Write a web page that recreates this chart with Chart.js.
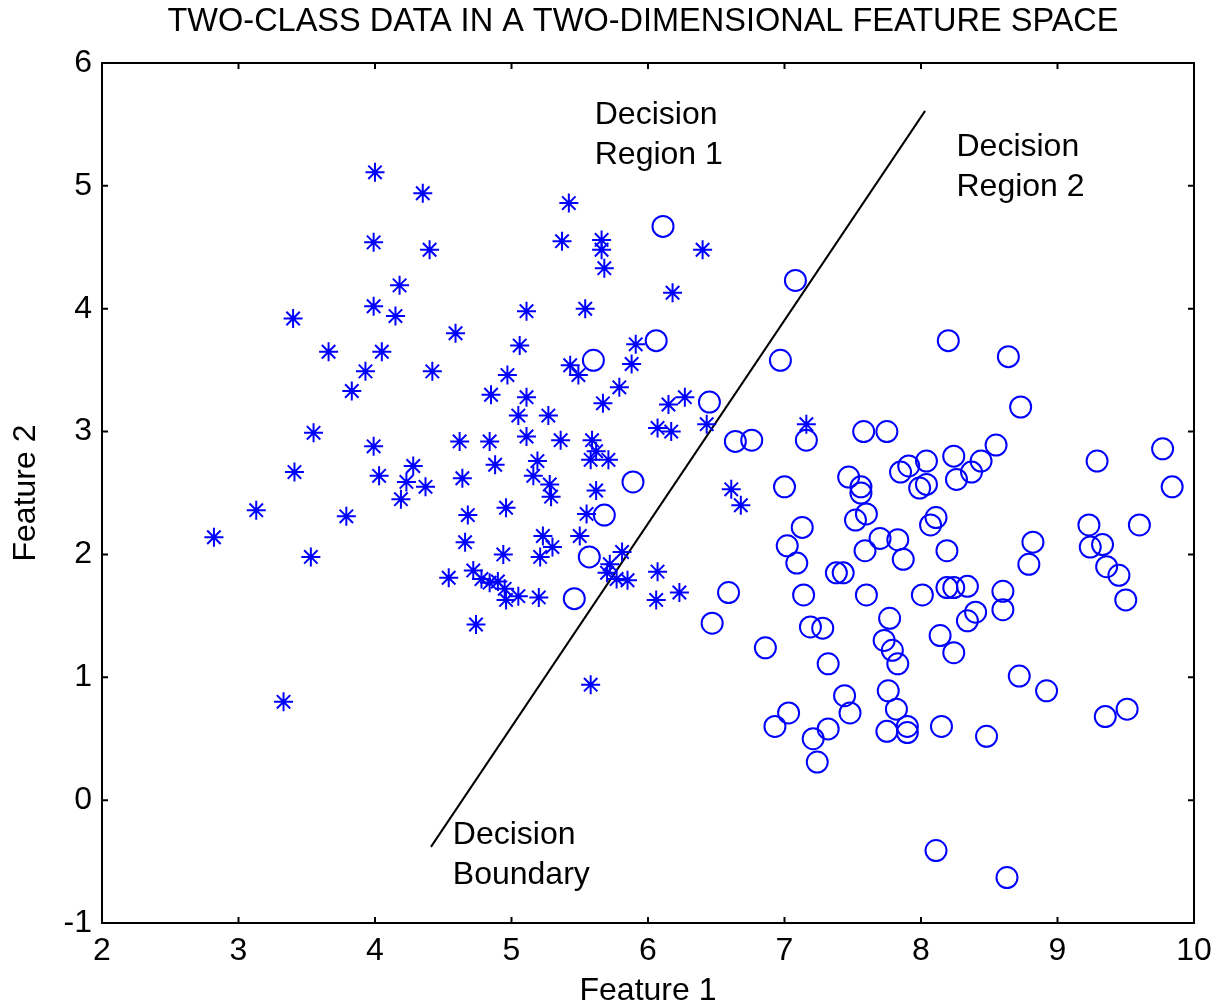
<!DOCTYPE html>
<html>
<head>
<meta charset="utf-8">
<script src="https://cdn.jsdelivr.net/npm/chart.js@4/dist/chart.umd.min.js"></script>
<style>
  html, body { margin: 0; padding: 0; background: #fff; }
  #wrap { width: 1211px; height: 1008px; }
</style>
</head>
<body>
<div id="wrap"><canvas id="chart" width="1211" height="1008"></canvas></div>
<script>
// class 1 (asterisks)
const class1X = [
  4.00, 4.35, 3.99, 4.40, 5.42, 5.37, 5.66, 5.66, 5.68, 6.40,
  6.18, 4.18, 3.99, 4.15, 3.40, 5.11, 5.54, 3.66, 4.05, 4.59,
  3.93, 3.83, 4.42, 5.06, 4.97, 5.91, 5.88, 5.43, 5.49, 5.79,
  4.85, 5.11, 5.67, 6.27, 6.15, 3.55, 5.05, 5.27, 5.11, 3.99,
  4.62, 4.84, 5.36, 5.59, 5.62, 5.58, 5.71, 6.07, 6.17, 6.43,
  7.16, 3.41, 4.28, 4.03, 4.23, 4.37, 4.64, 4.88, 5.19, 5.16,
  5.28, 5.29, 5.62, 4.19, 3.13, 3.79, 4.68, 4.96, 5.55, 6.61,
  6.68, 2.82, 4.66, 5.23, 5.30, 5.50, 3.53, 4.94, 5.21, 5.81,
  5.72, 6.07, 4.54, 4.72, 4.78, 4.84, 4.90, 4.95, 4.96, 5.05,
  5.20, 5.70, 5.77, 5.85, 6.06, 6.23, 4.74, 5.58, 3.33
];
const class1Y = [
  5.11, 4.94, 4.54, 4.48, 4.86, 4.55, 4.56, 4.48, 4.33, 4.48,
  4.13, 4.19, 4.02, 3.94, 3.92, 3.98, 4.00, 3.65, 3.65, 3.80,
  3.49, 3.33, 3.49, 3.70, 3.46, 3.71, 3.55, 3.54, 3.46, 3.36,
  3.30, 3.28, 3.23, 3.28, 3.22, 2.99, 3.13, 3.13, 2.96, 2.88,
  2.92, 2.92, 2.93, 2.93, 2.84, 2.77, 2.77, 3.03, 3.00, 3.06,
  3.06, 2.67, 2.72, 2.64, 2.59, 2.55, 2.62, 2.73, 2.76, 2.64,
  2.57, 2.47, 2.52, 2.45, 2.36, 2.31, 2.32, 2.38, 2.33, 2.53,
  2.40, 2.14, 2.10, 2.15, 2.06, 2.15, 1.98, 2.00, 1.98, 2.02,
  1.92, 1.86, 1.81, 1.87, 1.80, 1.77, 1.78, 1.72, 1.63, 1.66,
  1.65, 1.85, 1.80, 1.79, 1.63, 1.69, 1.43, 0.94, 0.80
];

// class 2 (circles)
const class2X = [
  6.11, 7.08, 6.06, 5.60, 6.97, 8.20, 8.64, 8.73, 6.45, 6.64,
  6.76, 7.16, 7.58, 7.75, 8.55, 9.77, 9.29, 9.84, 5.89, 7.00,
  7.47, 7.56, 7.56, 7.85, 7.91, 8.04, 7.99, 8.04, 8.24, 8.26,
  8.37, 8.44, 5.68, 7.13, 7.02, 7.09, 7.52, 7.60, 7.59, 7.70,
  7.83, 7.87, 8.11, 8.07, 8.19, 8.82, 8.79, 9.23, 9.60, 9.24,
  9.33, 9.36, 9.45, 9.50, 5.57, 7.38, 7.43, 6.59, 7.14, 7.60,
  8.01, 8.19, 8.24, 8.34, 8.60, 8.60, 8.40, 8.34, 5.46, 6.47,
  7.19, 7.28, 7.77, 7.73, 7.79, 7.83, 8.14, 8.24, 6.86, 7.32,
  8.72, 8.92, 7.76, 7.44, 7.82, 7.48, 7.03, 6.93, 7.32, 7.75,
  7.90, 7.90, 8.15, 7.21, 9.35, 9.51, 8.48, 7.24, 8.11, 8.63
];
const class2Y = [
  4.67, 4.23, 3.74, 3.58, 3.58, 3.74, 3.61, 3.20, 3.24, 2.92,
  2.93, 2.93, 3.00, 3.00, 2.89, 2.86, 2.76, 2.55, 2.59, 2.55,
  2.63, 2.55, 2.50, 2.67, 2.72, 2.76, 2.54, 2.57, 2.80, 2.61,
  2.67, 2.76, 2.32, 2.22, 2.07, 1.93, 2.28, 2.33, 2.03, 2.13,
  2.12, 1.96, 2.30, 2.24, 2.03, 2.10, 1.92, 2.24, 2.24, 2.06,
  2.08, 1.90, 1.83, 1.63, 1.98, 1.85, 1.85, 1.69, 1.67, 1.67,
  1.67, 1.73, 1.73, 1.74, 1.70, 1.55, 1.53, 1.46, 1.64, 1.44,
  1.41, 1.40, 1.48, 1.30, 1.22, 1.11, 1.34, 1.20, 1.24, 1.11,
  1.01, 0.89, 0.89, 0.85, 0.74, 0.71, 0.71, 0.60, 0.58, 0.56,
  0.60, 0.55, 0.60, 0.50, 0.68, 0.74, 0.52, 0.31, -0.41, -0.63
];

// decision boundary end points
const boundaryX = [4.41, 8.03];
const boundaryY = [-0.38, 5.61];

// axis ticks
const xTicks = [2, 3, 4, 5, 6, 7, 8, 9, 10];
const yTicks = [-1, 0, 1, 2, 3, 4, 5, 6];

// text notes, anchored in data units (left edge, first baseline)
const noteText = [['Decision', 'Region 1'], ['Decision', 'Region 2'], ['Decision', 'Boundary']];
const noteX = [5.61, 8.26, 4.57];
const noteY = [5.50, 5.24, -0.36];

const titleText = 'TWO-CLASS DATA IN A TWO-DIMENSIONAL FEATURE SPACE';
const FONT = '"Liberation Sans", Arial, Helvetica, sans-serif';

function toPoints(xs, ys) {
    return xs.map((x, i) => ({ x: x, y: ys[i] }));
}

// MATLAB-like box with inward ticks on all four sides
const boxPlugin = {
    id: 'boxTicks',
    afterDatasetsDraw(chart) {
        const { ctx, chartArea: a, scales } = chart;
        const len = 6;
        ctx.save();
        ctx.strokeStyle = '#000';
        ctx.lineWidth = 2;
        ctx.strokeRect(a.left, a.top, a.right - a.left, a.bottom - a.top);
        ctx.beginPath();
        xTicks.forEach(v => {
            const px = scales.x.getPixelForValue(v);
            ctx.moveTo(px, a.bottom); ctx.lineTo(px, a.bottom - len);
            ctx.moveTo(px, a.top); ctx.lineTo(px, a.top + len);
        });
        yTicks.forEach(v => {
            const py = scales.y.getPixelForValue(v);
            ctx.moveTo(a.left, py); ctx.lineTo(a.left + len, py);
            ctx.moveTo(a.right, py); ctx.lineTo(a.right - len, py);
        });
        ctx.stroke();
        ctx.restore();
    }
};

// title and in-plot text notes
const textPlugin = {
    id: 'texts',
    afterDatasetsDraw(chart) {
        const { ctx, chartArea: a, scales } = chart;
        ctx.save();
        ctx.fillStyle = '#000';
        ctx.font = '32.5px ' + FONT;
        ctx.textAlign = 'center';
        ctx.textBaseline = 'middle';
        ctx.fillText(titleText, (a.left + a.right) / 2 - 5, 22);

        ctx.font = '32px ' + FONT;
        ctx.textAlign = 'left';
        ctx.textBaseline = 'alphabetic';
        noteText.forEach((lines, i) => {
            const px = scales.x.getPixelForValue(noteX[i]);
            const py = scales.y.getPixelForValue(noteY[i]);
            lines.forEach((t, j) => ctx.fillText(t, px, py + j * 40));
        });
        ctx.restore();
    }
};

const ctx = document.getElementById('chart').getContext('2d');
new Chart(ctx, {
    type: 'scatter',
    data: {
        datasets: [
            {
                label: 'Class 1',
                data: toPoints(class1X, class1Y),
                pointStyle: 'star',
                radius: 9.5,
                borderColor: '#0000ff',
                backgroundColor: '#0000ff',
                borderWidth: 2
            },
            {
                label: 'Class 2',
                data: toPoints(class2X, class2Y),
                pointStyle: 'circle',
                radius: 10.5,
                borderColor: '#0000ff',
                backgroundColor: 'rgba(0,0,0,0)',
                borderWidth: 2
            },
            {
                label: 'Decision Boundary',
                data: toPoints(boundaryX, boundaryY),
                showLine: true,
                borderColor: '#000',
                borderWidth: 2,
                pointRadius: 0
            }
        ]
    },
    options: {
        responsive: false,
        animation: false,
        events: [],
        layout: { padding: { left: 0, right: 17, top: 63, bottom: 0 } },
        plugins: {
            legend: { display: false },
            tooltip: { enabled: false },
            title: { display: false }
        },
        scales: {
            x: {
                type: 'linear',
                min: 2,
                max: 10,
                afterFit(scale) {
                    scale.height = 85;
                    scale.paddingLeft = 0;
                    scale.paddingRight = 0;
                },
                afterBuildTicks(scale) { scale.ticks = xTicks.map(v => ({ value: v })); },
                grid: { display: false, drawTicks: false },
                border: { display: true, color: '#000', width: 2 },
                ticks: { color: '#000', padding: 9, font: { family: FONT, size: 32 } },
                title: {
                    display: true,
                    text: 'Feature 1',
                    color: '#000',
                    padding: { top: 0, bottom: -2 },
                    font: { family: FONT, size: 32 }
                }
            },
            y: {
                type: 'linear',
                min: -1,
                max: 6,
                afterFit(scale) {
                    scale.width = 102;
                    scale.paddingTop = 0;
                    scale.paddingBottom = 0;
                },
                afterBuildTicks(scale) { scale.ticks = yTicks.map(v => ({ value: v })); },
                grid: { display: false, drawTicks: false },
                border: { display: true, color: '#000', width: 2 },
                ticks: { color: '#000', padding: 10, font: { family: FONT, size: 32 } },
                title: {
                    display: true,
                    text: 'Feature 2',
                    color: '#000',
                    padding: { top: 7, bottom: 0 },
                    font: { family: FONT, size: 32 }
                }
            }
        }
    },
    plugins: [boxPlugin, textPlugin]
});
</script>
</body>
</html>
